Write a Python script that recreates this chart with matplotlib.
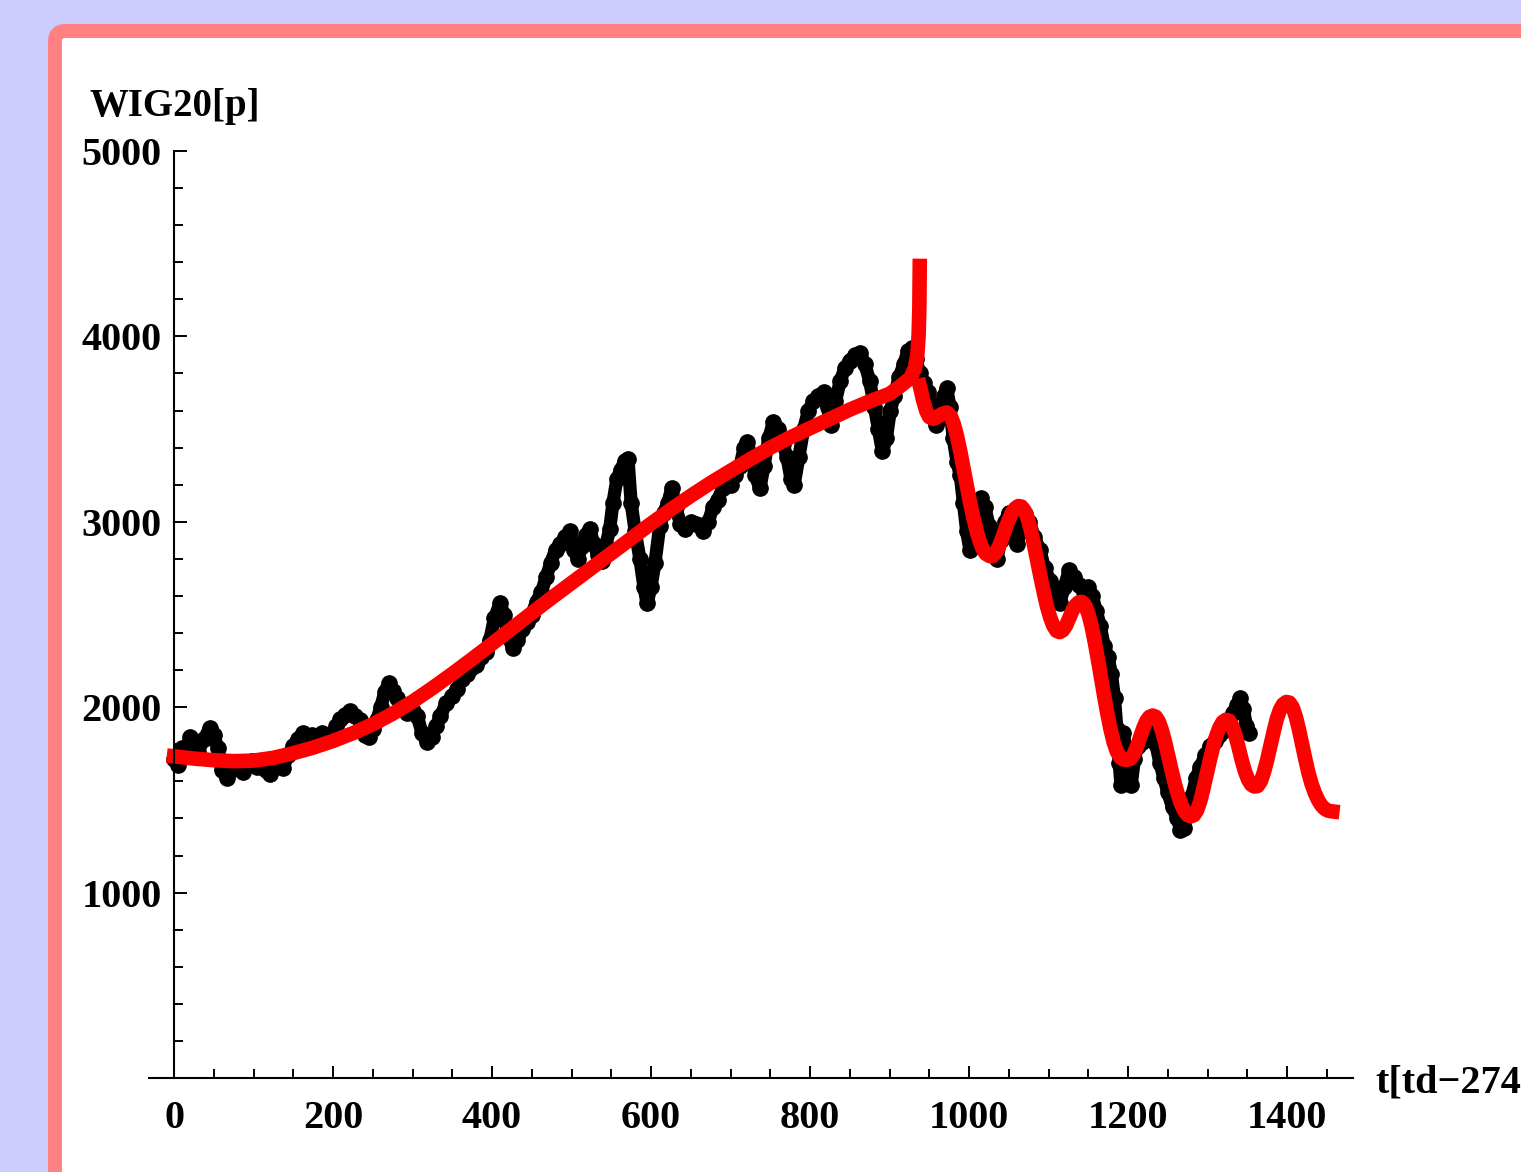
import matplotlib
matplotlib.use("Agg")
import matplotlib.pyplot as plt
from matplotlib.patches import FancyBboxPatch
from matplotlib.ticker import MultipleLocator

# WIG20 daily closes (t in trading days)
t_wig = [0, 5, 10, 15, 20, 25, 30, 38, 45, 50, 55, 60, 66, 72, 80, 87, 93, 98,
         104, 110, 116, 121, 128, 137, 143, 150, 156, 162, 168, 174, 180, 186,
         192, 198, 204, 209, 215, 221, 228, 234, 240, 245, 250, 255, 260, 265,
         270, 275, 280, 286, 293, 300, 306, 312, 318, 324, 330, 335, 342, 350,
         356, 362, 368, 374, 380, 386, 392, 397, 403, 410, 415, 420, 426, 432,
         438, 444, 450, 456, 462, 468, 474, 480, 486, 492, 498, 503, 508, 513,
         518, 523, 528, 533, 538, 543, 548, 552, 557, 562, 567, 571, 575, 580,
         586, 591, 595, 600, 605, 611, 616, 621, 626, 631, 637, 643, 650, 657,
         665, 672, 678, 684, 690, 695, 700, 706, 712, 717, 721, 726, 731, 737,
         742, 748, 754, 760, 766, 771, 776, 780, 786, 792, 798, 804, 810, 817,
         822, 826, 832, 838, 844, 850, 857, 863, 869, 875, 881, 886, 891, 896,
         901, 906, 912, 918, 923, 928, 933, 938, 943, 948, 953, 958, 963, 968,
         972, 976, 980, 985, 989, 993, 997, 1001, 1005, 1010, 1015, 1020, 1025,
         1030, 1035, 1040, 1045, 1050, 1055, 1060, 1065, 1070, 1076, 1082, 1089,
         1095, 1102, 1108, 1114, 1120, 1126, 1132, 1138, 1144, 1150, 1155, 1160,
         1165, 1170, 1175, 1179, 1183, 1186, 1189, 1191, 1194, 1198, 1201, 1204,
         1208, 1212, 1218, 1224, 1230, 1235, 1240, 1245, 1250, 1256, 1262, 1266,
         1270, 1275, 1280, 1286, 1291, 1297, 1303, 1309, 1315, 1320, 1326, 1332,
         1337, 1341, 1345, 1349, 1352]
wig20 = [1720, 1690, 1780, 1760, 1840, 1790, 1760, 1830, 1890, 1850, 1780, 1660,
         1620, 1660, 1680, 1650, 1690, 1710, 1680, 1690, 1660, 1640, 1680, 1670,
         1740, 1790, 1830, 1860, 1820, 1850, 1830, 1860, 1830, 1850, 1900, 1935,
         1960, 1980, 1950, 1930, 1850, 1840, 1880, 1930, 2000, 2080, 2130, 2090,
         2050, 2000, 1970, 1980, 1950, 1860, 1810, 1840, 1900, 1950, 2020, 2060,
         2100, 2150, 2180, 2210, 2230, 2270, 2300, 2360, 2480, 2560, 2500, 2380,
         2320, 2360, 2420, 2460, 2500, 2570, 2620, 2700, 2780, 2850, 2880, 2920,
         2950, 2850, 2800, 2870, 2930, 2960, 2880, 2820, 2790, 2870, 2960, 3100,
         3230, 3280, 3330, 3340, 3100, 2950, 2800, 2650, 2560, 2650, 2780, 2980,
         3050, 3100, 3180, 3080, 2990, 2960, 3000, 2990, 2950, 3000, 3080, 3120,
         3180, 3220, 3200, 3250, 3300, 3400, 3430, 3350, 3250, 3180, 3300, 3450,
         3540, 3500, 3420, 3350, 3230, 3200, 3350, 3500, 3600, 3650, 3680, 3700,
         3620, 3520, 3650, 3760, 3830, 3870, 3900, 3910, 3850, 3760, 3620, 3500,
         3380, 3450, 3600, 3680, 3780, 3850, 3920, 3940, 3880, 3800, 3750, 3700,
         3620, 3520, 3560, 3680, 3720, 3620, 3450, 3320, 3250, 3100, 2950, 2850,
         2950, 3050, 3130, 3080, 2980, 2900, 2800, 2900, 3000, 3050, 2950, 2880,
         2950, 3040, 3000, 2920, 2850, 2750, 2680, 2600, 2560, 2650, 2740, 2700,
         2660, 2620, 2650, 2600, 2520, 2440, 2330, 2270, 2180, 2050, 1880, 1700,
         1580, 1860, 1750, 1600, 1580, 1720, 1790, 1810, 1830, 1870, 1800, 1700,
         1620, 1540, 1460, 1400, 1340, 1350, 1430, 1520, 1620, 1680, 1740, 1790,
         1820, 1850, 1870, 1930, 1970, 2010, 2050, 1990, 1900, 1860]

# fitted curve before the critical time
t_fit_up = [0, 25, 50, 75, 100, 125, 150, 175, 200, 225, 250, 275, 300, 325,
            350, 375, 400, 425, 450, 475, 500, 525, 550, 575, 600, 625, 650,
            675, 700, 725, 750, 775, 800, 825, 850, 875, 900, 913, 926, 932,
            935, 936.5, 937.5, 938]
fit_up = [1735, 1723, 1714, 1709, 1712, 1727, 1752, 1782, 1818, 1860, 1908,
          1965, 2030, 2103, 2180, 2260, 2342, 2425, 2508, 2590, 2670, 2750,
          2830, 2910, 2990, 3067, 3140, 3210, 3275, 3338, 3400, 3455, 3505,
          3555, 3605, 3650, 3690, 3730, 3775, 3830, 3900, 4000, 4150, 4380]

# fitted curve after the critical time
t_fit_down = [938, 942, 946, 950, 955, 960, 966, 972, 977, 981, 985, 989, 993,
              997, 1001, 1005, 1009, 1013, 1017, 1021, 1026, 1030, 1034, 1038,
              1042, 1046, 1050, 1054, 1058, 1062, 1066, 1070, 1074, 1078, 1082,
              1086, 1090, 1094, 1098, 1102, 1106, 1110, 1114, 1118, 1122, 1126,
              1130, 1134, 1138, 1142, 1146, 1150, 1154, 1158, 1162, 1166, 1170,
              1174, 1178, 1182, 1186, 1190, 1194, 1198, 1203, 1207, 1211, 1215,
              1219, 1223, 1227, 1231, 1235, 1239, 1243, 1247, 1251, 1255, 1259,
              1263, 1267, 1271, 1275, 1279, 1283, 1287, 1291, 1295, 1299, 1303,
              1307, 1311, 1315, 1319, 1323, 1327, 1331, 1335, 1339, 1343, 1347,
              1351, 1355, 1359, 1363, 1367, 1371, 1375, 1379, 1383, 1387, 1391,
              1395, 1399, 1403, 1407, 1411, 1415, 1419, 1423, 1427, 1431, 1435,
              1439, 1443, 1447, 1451, 1455, 1457]
fit_down = [3735, 3660, 3600, 3565, 3555, 3565, 3582, 3590, 3570, 3525, 3460,
            3380, 3290, 3200, 3110, 3030, 2960, 2900, 2855, 2828, 2815, 2816,
            2835, 2870, 2915, 2965, 3010, 3048, 3073, 3085, 3082, 3060, 3015,
            2950, 2870, 2785, 2700, 2620, 2545, 2485, 2440, 2412, 2405, 2415,
            2440, 2480, 2520, 2550, 2566, 2568, 2550, 2505, 2440, 2355, 2260,
            2160, 2060, 1965, 1880, 1810, 1760, 1730, 1718, 1716, 1722, 1745,
            1785, 1835, 1885, 1925, 1948, 1955, 1948, 1920, 1870, 1805, 1730,
            1655, 1585, 1525, 1475, 1440, 1418, 1411, 1418, 1445, 1495, 1565,
            1640, 1715, 1785, 1845, 1890, 1920, 1932, 1928, 1900, 1850, 1785,
            1715, 1655, 1610, 1582, 1572, 1575, 1600, 1650, 1715, 1790, 1865,
            1935, 1985, 2015, 2028, 2025, 2000, 1950, 1880, 1800, 1720, 1645,
            1585, 1537, 1500, 1472, 1453, 1443, 1439, 1438]

W, H = 1521, 1172
fig = plt.figure(figsize=(W / 100, H / 100), dpi=100)
fig.patch.set_facecolor("#CCCCFF")

# frame drawn in pixel coordinates
bg = fig.add_axes([0, 0, 1, 1], zorder=0)
bg.set_xlim(0, W)
bg.set_ylim(H, 0)
bg.axis("off")
bg.add_patch(FancyBboxPatch((55, 31), 2000, 2000,
                            boxstyle="round,pad=0,rounding_size=10",
                            ec="#FF8080", fc="white", lw=10))

font = dict(family="Liberation Serif", weight="bold")
bg.text(90, 116, "WIG20[p]", ha="left", va="baseline", size=28, **font)
# the axis label runs off the right edge, as in the original
bg.text(1375, 1093, "t[td\u22122749]", ha="left", va="baseline", size=29, **font)

x0, x1 = -31, 1483
ax = fig.add_axes([149.4 / W, (H - 1078) / H, (1353 - 149.4) / W, (1078 - 151) / H],
                  zorder=1)
ax.patch.set_alpha(0)

ax.plot(t_wig, wig20, color="black", lw=9.5, marker="o", ms=11,
        solid_joinstyle="round", solid_capstyle="round")
ax.plot(t_fit_up, fit_up, color="red", lw=10.5, solid_joinstyle="round")
ax.plot(t_fit_down, fit_down, color="red", lw=10.5, solid_joinstyle="round")

ax.set_xlim(x0, x1)
ax.set_ylim(0, 5000)
for s in ["top", "right"]:
    ax.spines[s].set_visible(False)
ax.spines["left"].set_position(("data", 0))
ax.spines["left"].set_bounds(0, 5000)
ax.spines["left"].set_linewidth(1.5)
ax.spines["bottom"].set_linewidth(1.5)

ax.xaxis.set_major_locator(MultipleLocator(200))
ax.xaxis.set_minor_locator(MultipleLocator(50))
ax.yaxis.set_major_locator(MultipleLocator(1000))
ax.yaxis.set_minor_locator(MultipleLocator(200))
ax.set_xticks([0, 200, 400, 600, 800, 1000, 1200, 1400])
ax.set_yticks([1000, 2000, 3000, 4000, 5000])
ax.tick_params(which="both", direction="in", width=1.4)
ax.tick_params(which="major", length=9)
ax.tick_params(which="minor", length=6.5)
ax.tick_params(axis="x", which="major", pad=16)
ax.tick_params(axis="y", which="major", pad=9)
for lab in ax.get_xticklabels() + ax.get_yticklabels():
    lab.set_fontfamily("Liberation Serif")
    lab.set_fontweight("bold")
    lab.set_fontsize(29)

fig.savefig("out.png", dpi=100, facecolor=fig.get_facecolor())
